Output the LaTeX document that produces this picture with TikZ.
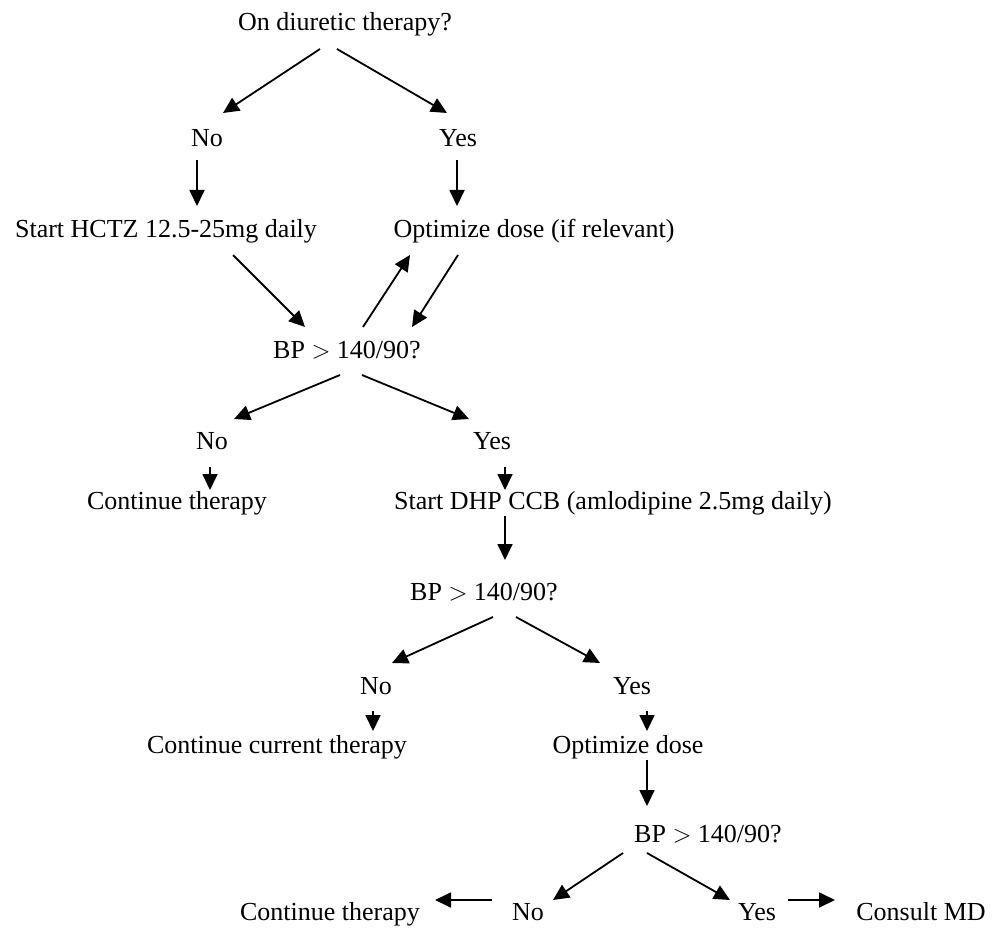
\documentclass[tikz,border=0pt]{standalone}
\usepackage{fontspec}
\setmainfont{Liberation Serif}
\usetikzlibrary{arrows.meta}
\begin{document}
\begin{tikzpicture}[x=1pt,y=-1pt,
  lbl/.style={anchor=base,inner sep=0pt,font=\fontsize{26}{30}\selectfont},
  flow/.style={line width=1.8pt,-{Triangle[length=16pt,width=15pt]}}]
\useasboundingbox (0,0) rectangle (994,928);
% text of the chart
\node[lbl] (q1)  at (345,31)  {On diuretic therapy?};
\node[lbl] (n1)  at (207,147) {No};
\node[lbl] (y1)  at (458,147) {Yes};
\node[lbl] (hctz) at (166,238) {Start HCTZ 12.5-25mg daily};
\node[lbl] (opt1) at (534,238) {Optimize dose (if relevant)};
\node[lbl] (q2)  at (347,359) {BP $>$ 140/90?};
\node[lbl] (n2)  at (212,449) {No};
\node[lbl] (y2)  at (492,449) {Yes};
\node[lbl] (cont1) at (177,509) {Continue therapy};
\node[lbl] (dhp) at (613,509) {Start DHP CCB (amlodipine 2.5mg daily)};
\node[lbl] (q3)  at (484,600) {BP $>$ 140/90?};
\node[lbl] (n3)  at (376,694) {No};
\node[lbl] (y3)  at (632,694) {Yes};
\node[lbl] (cont2) at (277,753) {Continue current therapy};
\node[lbl] (opt2) at (628,753) {Optimize dose};
\node[lbl] (q4)  at (708,842) {BP $>$ 140/90?};
\node[lbl] (n4)  at (528,920) {No};
\node[lbl] (y4)  at (757,920) {Yes};
\node[lbl] (cont3) at (330,920) {Continue therapy};
\node[lbl] (md)  at (921,920) {Consult MD};
% arrow end points
\coordinate (a1s) at (320,49);  \coordinate (a1e) at (223,113);
\coordinate (a2s) at (337,49);  \coordinate (a2e) at (447,113);
\coordinate (a3s) at (197,160); \coordinate (a3e) at (197,206);
\coordinate (a4s) at (457,160); \coordinate (a4e) at (457,206);
\coordinate (a5s) at (233,255); \coordinate (a5e) at (305,327);
\coordinate (a6s) at (363,327); \coordinate (a6e) at (410,255);
\coordinate (a7s) at (458,255); \coordinate (a7e) at (412,327);
\coordinate (a8s) at (340,375); \coordinate (a8e) at (234,419);
\coordinate (a9s) at (362,375); \coordinate (a9e) at (469,419);
\coordinate (a10s) at (210,467); \coordinate (a10e) at (210,490);
\coordinate (a11s) at (505,467); \coordinate (a11e) at (505,490);
\coordinate (a12s) at (505,516); \coordinate (a12e) at (505,560);
\coordinate (a13s) at (493,617); \coordinate (a13e) at (392,663);
\coordinate (a14s) at (516,617); \coordinate (a14e) at (600,663);
\coordinate (a15s) at (373,711); \coordinate (a15e) at (373,731);
\coordinate (a16s) at (647,711); \coordinate (a16e) at (647,731);
\coordinate (a17s) at (647,760); \coordinate (a17e) at (647,806);
\coordinate (a18s) at (623,853); \coordinate (a18e) at (553,900);
\coordinate (a19s) at (647,853); \coordinate (a19e) at (730,900);
\coordinate (a20s) at (788,900); \coordinate (a20e) at (835,900);
\coordinate (a21s) at (492,900); \coordinate (a21e) at (435,900);
% connectors
\foreach \i in {1,...,21} \draw[flow] (a\i s) -- (a\i e);
\end{tikzpicture}
\end{document}
